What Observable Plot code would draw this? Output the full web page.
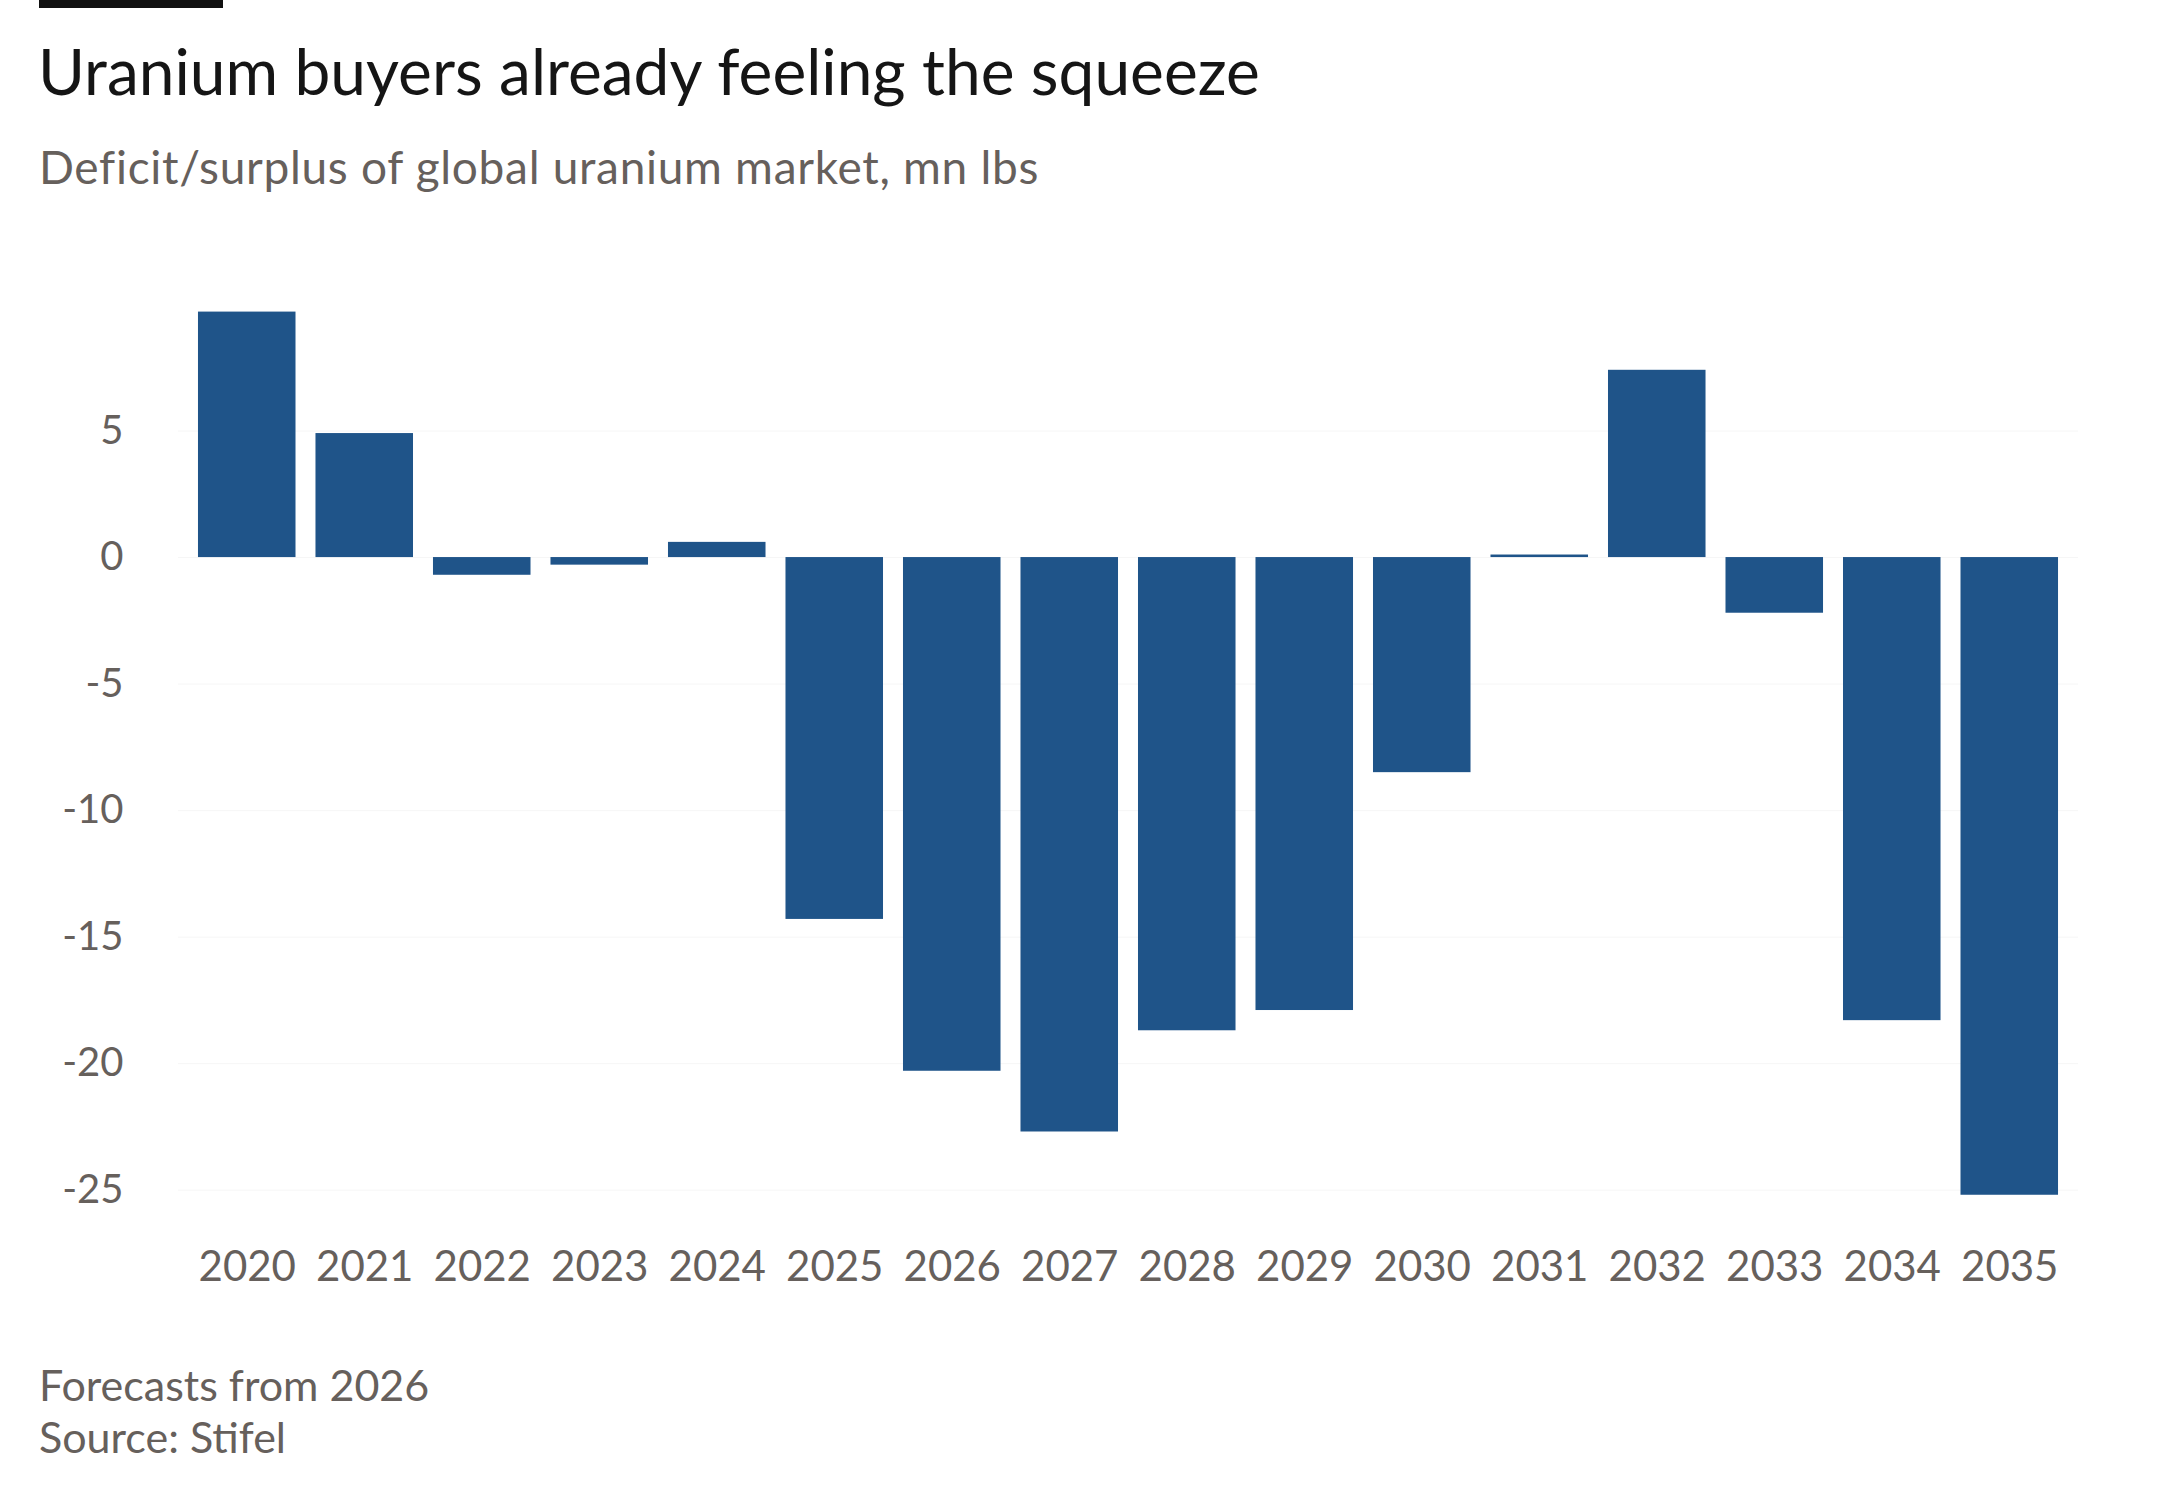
<!DOCTYPE html>
<html>
<head>
<meta charset="utf-8">
<script src="https://cdn.jsdelivr.net/npm/d3@7"></script>
<script src="https://cdn.jsdelivr.net/npm/@observablehq/plot@0.6"></script>
<style>
  html, body { margin: 0; padding: 0; background: #ffffff; }
  body { width: 2180px; height: 1505px; position: relative; overflow: hidden; font-family: Lato, "Open Sans", sans-serif; }
  #bar { position: absolute; left: 39px; top: 0; width: 184px; height: 8px; background: #111; }
  #title { position: absolute; left: 38px; top: 32px; font-size: 64px; color: #151515; white-space: nowrap; }
  #subtitle { position: absolute; left: 39px; top: 139px; font-size: 46px; letter-spacing: 0.7px; color: #66605c; white-space: nowrap; }
  #chart { position: absolute; left: 0; top: 220px; }
  #caption { position: absolute; left: 39px; top: 1359px; font-size: 43px; color: #66605c; line-height: 52px; white-space: nowrap; }
</style>
</head>
<body>
<div id="bar"></div>
<div id="title">Uranium buyers already feeling the squeeze</div>
<div id="subtitle">Deficit/surplus of global uranium market, mn lbs</div>
<div id="chart"></div>
<div id="caption">Forecasts from 2026<br>Source: Stifel</div>
<script>
const years = ["2020","2021","2022","2023","2024","2025","2026","2027","2028","2029","2030","2031","2032","2033","2034","2035"];
const balance = [9.7, 4.9, -0.7, -0.3, 0.6, -14.3, -20.3, -22.7, -18.7, -17.9, -8.5, 0.1, 7.4, -2.2, -18.3, -25.2];
const yTicks = [5, 0, -5, -10, -15, -20, -25];

const data = years.map((y, i) => ({year: y, value: balance[i]}));

const chart = Plot.plot({
  width: 2180,
  height: 1085,
  marginLeft: 178,
  marginRight: 102,
  marginTop: 84,
  marginBottom: 90,
  style: {fontFamily: "Lato, 'Open Sans', sans-serif", background: "transparent"},
  x: {domain: years, padding: 0.17, round: false, axis: null},
  y: {domain: [-26, 10], axis: null},
  marks: [
    Plot.gridY(yTicks, {stroke: "#f6f6f6", strokeOpacity: 1, strokeWidth: 1}),
    Plot.barY(data, {x: "year", y: "value", fill: "#1f5489"}),
    Plot.axisY(yTicks, {
      tickSize: 0, tickPadding: 55, fontSize: 40, fill: "#66605c",
      tickFormat: d => String(d), label: null
    }),
    Plot.axisX(years, {
      tickSize: 0, tickPadding: 36, fontSize: 42, fill: "#66605c", label: null
    })
  ]
});
document.getElementById("chart").appendChild(chart);
</script>
</body>
</html>
